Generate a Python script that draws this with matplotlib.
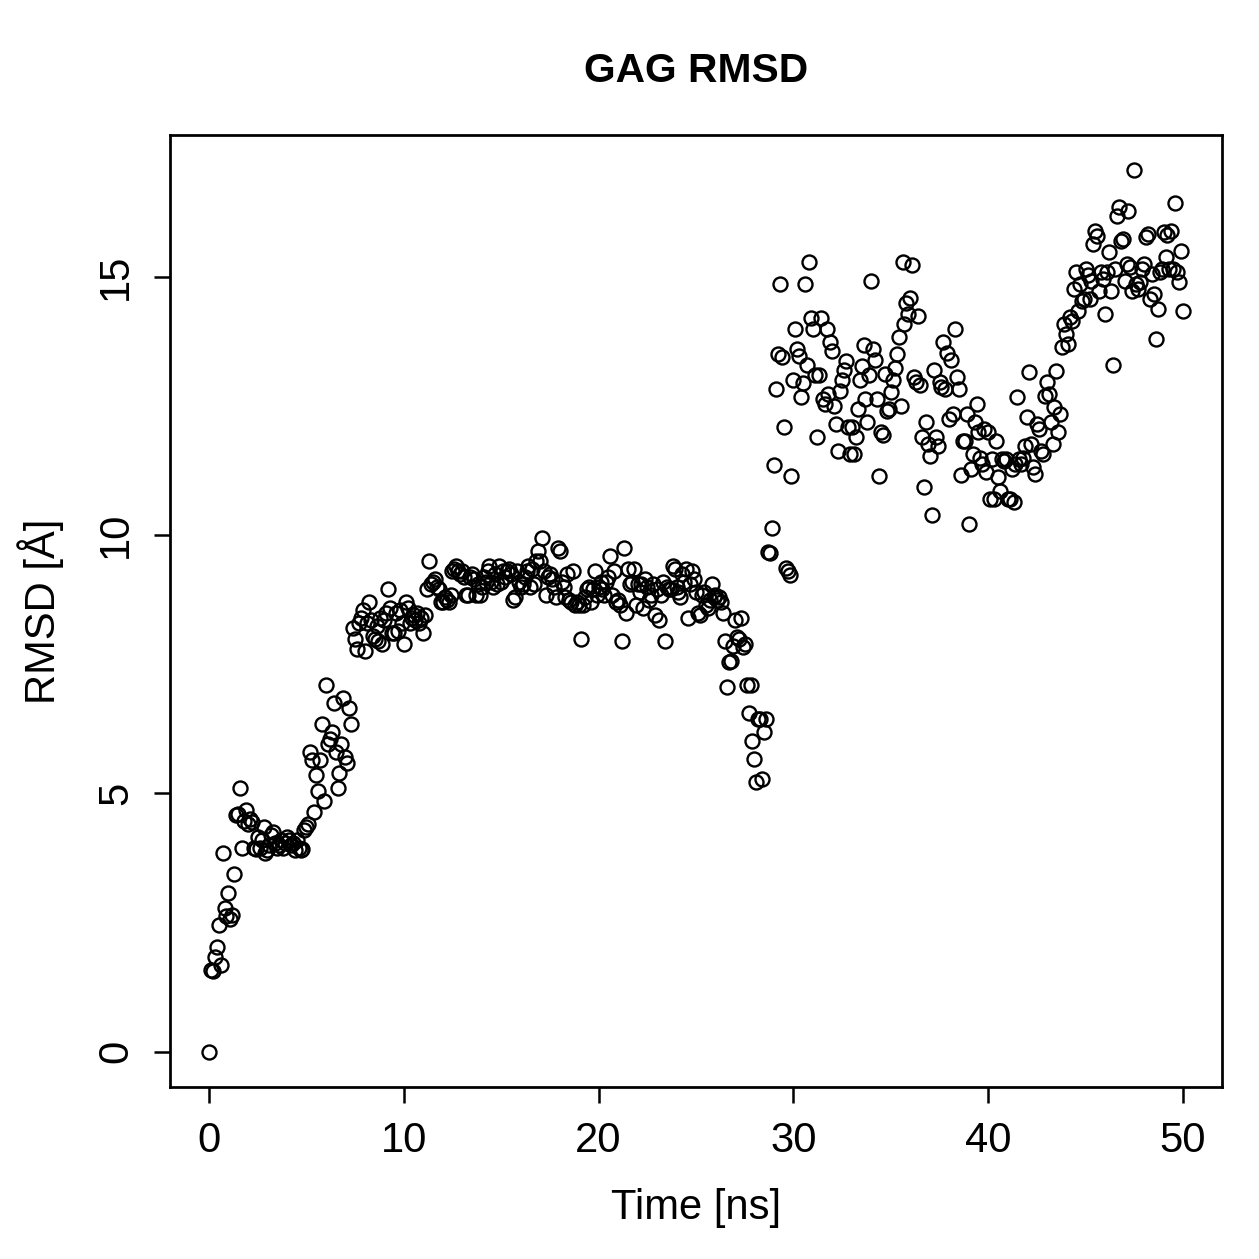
import numpy as np
import matplotlib
matplotlib.use("Agg")
import matplotlib.pyplot as plt

plt.rcParams['font.family'] = ['Liberation Sans', 'DejaVu Sans']

# RMSD per frame, one frame every 0.1 ns (rows = 1 ns)
rmsd = [
    0.0, 1.58, 1.56, 1.83, 2.02, 2.45, 1.68, 3.85, 2.78, 2.62,
    3.08, 2.57, 2.65, 3.45, 4.58, 4.6, 5.1, 3.95, 4.47, 4.68,
    4.4, 4.5, 4.45, 3.95, 3.93, 4.15, 3.95, 4.1, 4.35, 3.85,
    3.9, 4.0, 4.2, 4.25, 4.05, 3.95, 4.0, 4.1, 3.95, 4.05,
    4.15, 4.1, 4.0, 4.05, 3.9, 4.1, 3.95, 3.9, 3.92, 4.3,
    4.35, 4.4, 5.8, 5.65, 4.65, 5.35, 5.05, 5.65, 6.35, 4.85,
    7.1, 5.95, 6.05, 6.2, 6.75, 5.8, 5.1, 5.4, 5.95, 6.85,
    5.7, 5.6, 6.65, 6.35, 8.2, 8.0, 7.8, 8.3, 8.4, 8.55,
    7.75, 8.3, 8.7, 8.35, 8.05, 8.0, 8.25, 7.95, 8.4, 7.9,
    8.35, 8.5, 8.95, 8.6, 8.1, 8.1, 8.5, 8.15, 8.55, 8.3,
    7.9, 8.7, 8.6, 8.3, 8.4, 8.45, 8.35, 8.5, 8.3, 8.4,
    8.1, 8.45, 8.95, 9.5, 9.05, 9.1, 9.15, 9.0, 8.95, 8.7,
    8.7, 8.8, 8.75, 8.7, 8.85, 9.3, 9.35, 9.4, 9.3, 9.25,
    9.3, 9.2, 8.85, 8.85, 9.2, 9.25, 9.15, 8.85, 9.05, 8.85,
    9.0, 9.2, 9.1, 9.3, 9.4, 9.1, 9.0, 9.25, 9.05, 9.4,
    9.1, 9.3, 9.2, 9.3, 9.35, 9.25, 8.75, 8.8, 9.3, 9.1,
    9.0, 9.05, 9.2, 9.3, 9.4, 9.0, 9.35, 9.05, 9.5, 9.7,
    9.5, 9.95, 9.3, 8.85, 9.2, 9.25, 9.15, 9.0, 8.8, 9.75,
    9.7, 9.1, 9.0, 8.8, 9.25, 8.75, 8.7, 9.3, 8.65, 8.7,
    8.65, 8.0, 8.65, 8.8, 8.95, 9.0, 8.7, 8.95, 9.3, 8.85,
    9.0, 9.1, 8.95, 8.85, 9.1, 9.2, 9.6, 8.85, 9.3, 8.7,
    8.75, 8.65, 7.95, 9.75, 8.5, 9.35, 9.05, 9.1, 9.35, 8.65,
    9.05, 8.9, 9.05, 8.6, 9.15, 9.0, 8.75, 8.85, 9.05, 8.45,
    8.95, 8.35, 8.85, 9.1, 7.95, 9.0, 8.95, 8.95, 9.4, 9.35,
    9.0, 8.9, 8.8, 9.25, 9.1, 9.35, 8.4, 9.05, 9.3, 9.15,
    8.9, 8.5, 8.45, 8.85, 8.9, 8.65, 8.6, 8.75, 9.05, 8.8,
    8.85, 8.75, 8.8, 8.7, 8.5, 7.95, 7.06, 7.55, 7.57, 7.86,
    8.36, 8.03, 8.0, 8.4, 7.84, 7.9, 7.1, 6.56, 7.1, 6.02,
    5.67, 5.23, 6.45, 6.45, 5.28, 6.2, 6.45, 9.68, 9.65, 10.14,
    11.36, 12.83, 13.5, 14.86, 13.45, 12.1, 9.37, 9.3, 9.23, 11.15,
    13.0, 14.0, 13.6, 13.47, 12.67, 12.95, 14.86, 13.3, 15.3, 14.2,
    14.0, 13.1, 11.9, 13.1, 14.2, 12.64, 12.55, 14.0, 12.73, 13.75,
    13.56, 12.5, 12.15, 11.63, 12.8, 13.0, 13.2, 13.37, 12.1, 11.57,
    12.1, 11.57, 11.9, 12.45, 13.0, 13.27, 13.68, 12.64, 12.2, 13.1,
    14.92, 13.6, 13.4, 12.64, 11.15, 12.0, 11.94, 13.12, 12.4, 12.45,
    12.77, 13.0, 13.24, 13.5, 13.84, 12.5, 15.3, 14.1, 14.5, 14.28,
    14.6, 15.23, 13.06, 12.97, 14.25, 12.9, 11.9, 10.93, 12.2, 11.77,
    11.53, 10.39, 13.2, 11.9, 11.73, 12.97, 12.87, 13.75, 12.83, 13.53,
    12.25, 13.4, 12.35, 14.0, 13.06, 12.83, 11.17, 11.82, 11.82, 12.35,
    10.22, 11.28, 11.57, 12.2, 12.55, 12.0, 11.5, 11.38, 12.06, 11.22,
    12.0, 10.7, 11.48, 10.7, 11.82, 11.13, 10.86, 11.48, 11.44, 11.48,
    10.7, 10.7, 11.28, 10.64, 11.38, 12.68, 11.48, 11.38, 11.5, 11.73,
    12.29, 13.16, 11.77, 11.32, 11.19, 12.15, 12.06, 11.63, 11.57, 12.7,
    12.97, 12.73, 12.2, 11.77, 12.48, 13.18, 12.0, 12.35, 13.65, 14.1,
    13.9, 13.7, 14.22, 14.15, 14.77, 15.1, 14.34, 14.86, 14.53, 14.57,
    15.15, 15.04, 14.57, 14.92, 15.64, 15.9, 15.8, 14.73, 15.1, 14.96,
    14.28, 15.1, 15.48, 14.73, 13.3, 15.15, 16.18, 16.35, 15.7, 15.73,
    14.92, 15.25, 16.28, 15.2, 14.73, 17.07, 14.86, 14.77, 14.9, 15.15,
    15.25, 15.77, 15.83, 14.57, 15.06, 14.67, 13.8, 14.38, 15.1, 15.15,
    15.87, 15.39, 15.81, 15.15, 15.9, 15.15, 16.43, 15.1, 14.9, 15.5,
    14.34,
]
time_ns = np.linspace(0, 50, len(rmsd))

fig = plt.figure(figsize=(1259 / 180, 1259 / 180), dpi=180)
ax = fig.add_axes([170 / 1259, 1 - 1087 / 1259, (1222 - 170) / 1259, (1087 - 135) / 1259])

ax.plot(time_ns, rmsd, 'o', mfc='none', mec='black', ms=5.6, mew=0.95)

ax.set_xlim(-2, 52)
ax.set_ylim(-0.683, 17.75)
ax.set_xticks([0, 10, 20, 30, 40, 50])
ax.set_yticks([0, 5, 10, 15])
ax.tick_params(direction='out', length=6.5, width=1.0, labelsize=16.7, pad=7)
plt.setp(ax.get_yticklabels(), rotation=90, va='center')
for s in ax.spines.values():
    s.set_linewidth(1.1)

ax.set_xlabel('Time [ns]', fontsize=16.7, labelpad=11)
ax.set_ylabel('RMSD [Å]', fontsize=16.7, labelpad=13)
ax.set_title('GAG RMSD', fontsize=16.3, fontweight='bold', pad=21)

fig.savefig('out.png', dpi=180)
